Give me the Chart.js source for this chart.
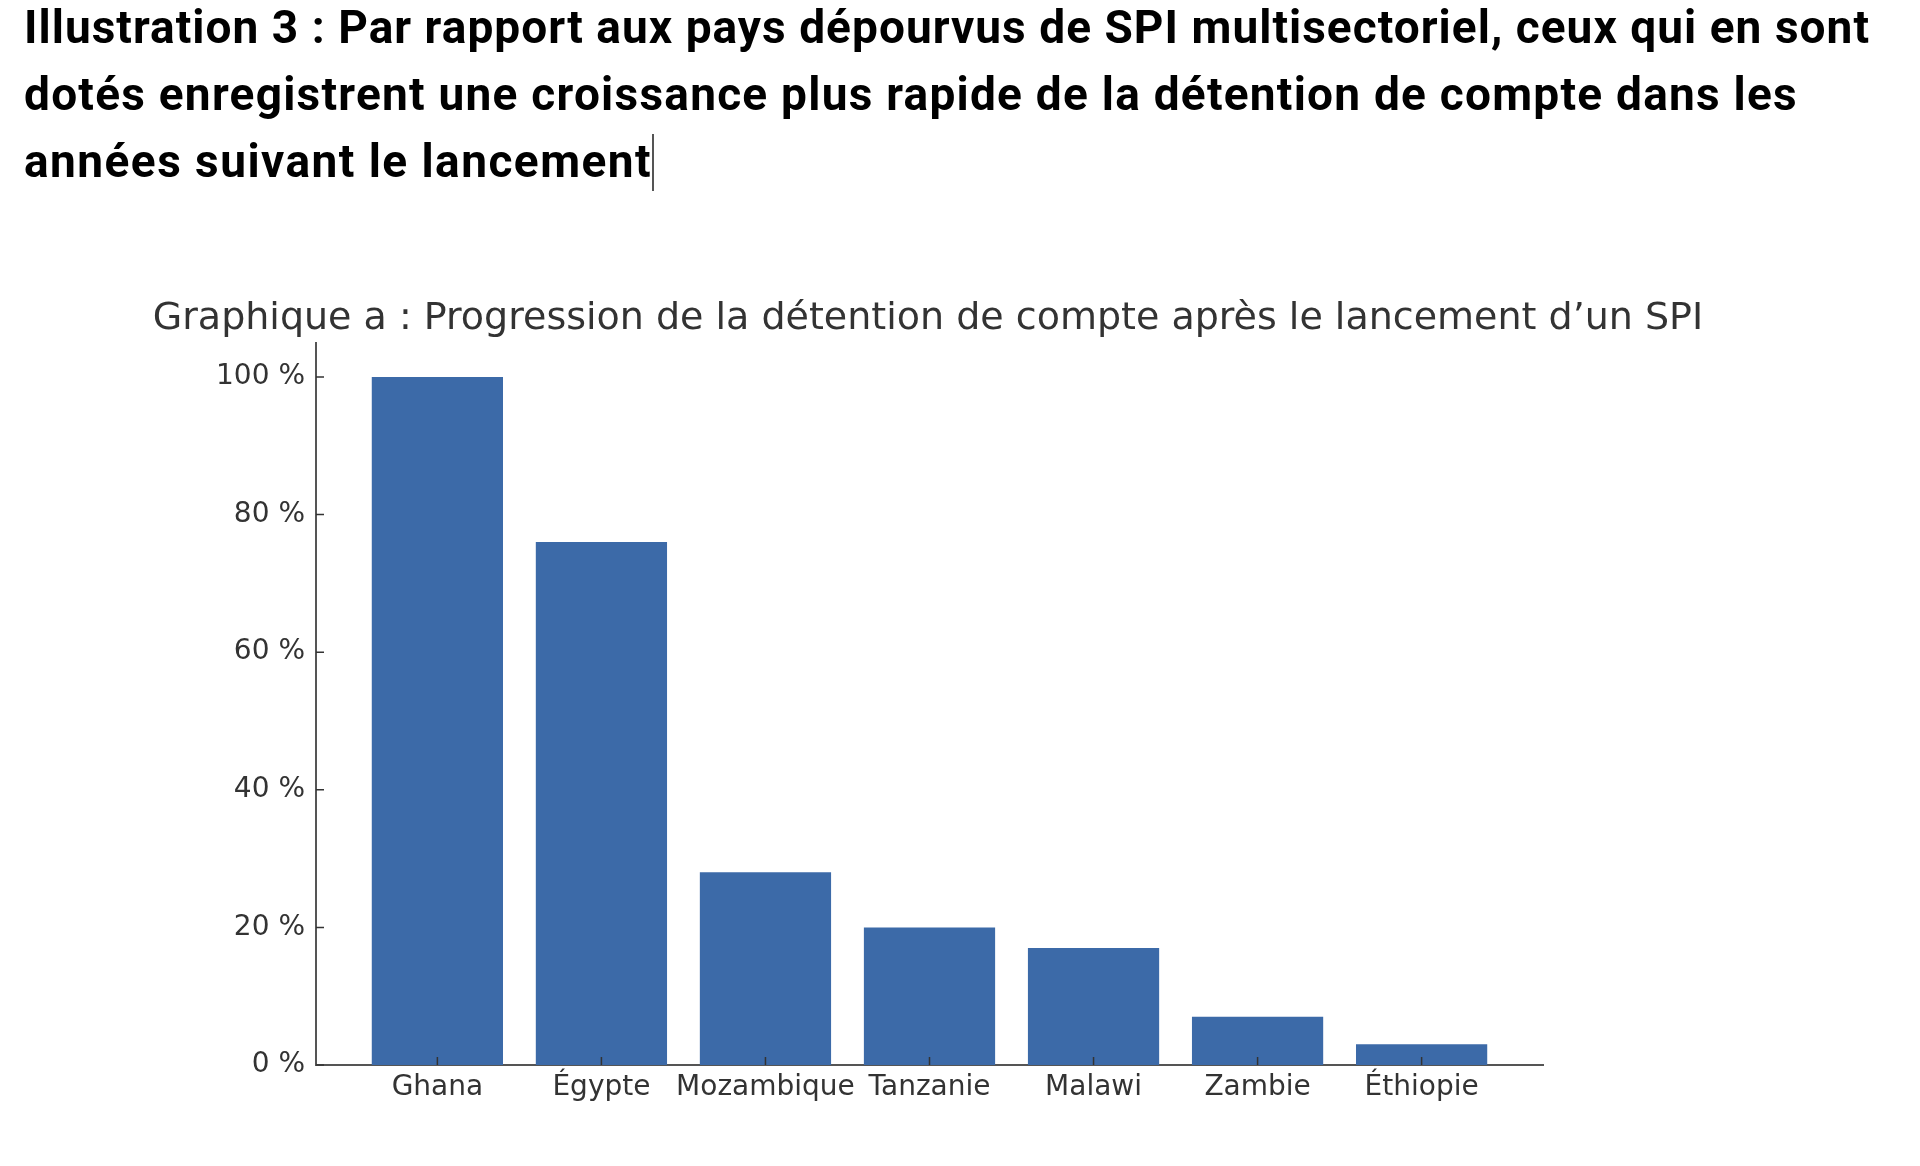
<!DOCTYPE html>
<html lang="fr">
<head>
<meta charset="utf-8">
<title>Illustration 3</title>
<script src="https://cdn.jsdelivr.net/npm/chart.js@4.4.1/dist/chart.umd.min.js"></script>
<style>
  html, body { margin: 0; padding: 0; background: #fff; width: 1920px; height: 1166px; overflow: hidden; }
  #myChart { position: absolute; left: 0; top: 0; }
  #heading {
    position: absolute; left: 24px; top: -6px;
    font-family: Roboto, "Noto Sans", sans-serif; font-weight: 700;
    font-size: 46px; line-height: 67px; color: #000; white-space: nowrap;
  }
  #heading .line { display: block; }
  .caret { display: inline-block; width: 2px; height: 57px; background: #555; vertical-align: -14px; }
</style>
</head>
<body>
<canvas id="myChart" width="1920" height="1166"></canvas>
<div id="heading">
  <span class="line"><span class="txt">Illustration 3 : Par rapport aux pays dépourvus de SPI multisectoriel, ceux qui en sont</span></span>
  <span class="line"><span class="txt">dotés enregistrent une croissance plus rapide de la détention de compte dans les</span></span>
  <span class="line"><span class="txt">années suivant le lancement</span><span class="caret"></span></span>
</div>
<script>
// chart data
const categories = ['Ghana', 'Égypte', 'Mozambique', 'Tanzanie', 'Malawi', 'Zambie', 'Éthiopie'];
const values = [100, 76, 28, 20, 17, 7, 3];
const yTicks = [0, 20, 40, 60, 80, 100];
const chartTitle = 'Graphique a : Progression de la détention de compte après le lancement d’un SPI';

// widths of the three heading lines in the picture
const headingWidths = [1846, 1774, 628];

function fitHeading() {
    document.querySelectorAll('#heading .txt').forEach((el, i) => {
        el.style.letterSpacing = '0px';
        let w = el.getBoundingClientRect().width;
        el.style.letterSpacing = ((headingWidths[i] - w) / el.textContent.length) + 'px';
    });
}
fitHeading();
document.fonts.ready.then(fitHeading);

const axisFont = { family: 'DejaVu Sans', size: 28 };
const textColor = '#333';

// matplotlib style: small tick marks pointing into the plot
const innerTicks = {
    id: 'innerTicks',
    afterDatasetsDraw(chart) {
        const { ctx, scales: { x, y } } = chart;
        ctx.save();
        ctx.strokeStyle = '#333';
        ctx.lineWidth = 1.5;
        ctx.beginPath();
        y.ticks.forEach(t => {
            let py = y.getPixelForValue(t.value);
            ctx.moveTo(x.left, py);
            ctx.lineTo(x.left + 8, py);
        });
        x.ticks.forEach(t => {
            let px = x.getPixelForValue(t.value);
            ctx.moveTo(px, y.bottom);
            ctx.lineTo(px, y.bottom - 8);
        });
        ctx.stroke();
        ctx.restore();
    }
};

const ctx = document.getElementById('myChart');
let chart = new Chart(ctx, {
    type: 'bar',
    data: {
        datasets: [{
            data: values.map((v, i) => ({ x: i, y: v })),
            backgroundColor: '#3c6aa8',
            borderWidth: 0,
            categoryPercentage: 1,
            barPercentage: 0.8
        }]
    },
    plugins: [innerTicks],
    options: {
        responsive: false,
        animation: false,
        layout: { padding: { left: 0, right: 64, top: 0, bottom: 0 } },
        scales: {
            x: {
                type: 'linear',
                offset: false,
                min: -0.74,
                max: 6.74,
                grid: { display: false, drawTicks: false },
                border: { display: true, color: '#555', width: 2 },
                afterBuildTicks: (scale) => { scale.ticks = categories.map((c, i) => ({ value: i })); },
                afterFit: (scale) => { scale.height = 101; },
                ticks: {
                    callback: (v) => categories[v],
                    font: axisFont,
                    color: textColor,
                    padding: 6,
                    maxRotation: 0,
                    autoSkip: false
                }
            },
            y: {
                min: 0,
                max: 105,
                grid: { display: false, drawTicks: false },
                border: { display: true, color: '#555', width: 2 },
                afterBuildTicks: (scale) => { scale.ticks = yTicks.map(v => ({ value: v })); },
                afterFit: (scale) => { scale.width = 316; },
                ticks: {
                    callback: (v) => v + ' %',
                    font: axisFont,
                    color: textColor,
                    padding: 11
                }
            },
            // empty right side of the figure
            yRight: {
                position: 'right',
                grid: { display: false, drawTicks: false },
                border: { display: false },
                ticks: { display: false },
                afterFit: (scale) => { scale.width = 313; }
            }
        },
        plugins: {
            legend: { display: false },
            tooltip: { enabled: false },
            title: {
                display: true,
                text: chartTitle,
                color: textColor,
                font: { family: 'DejaVu Sans', size: 38, weight: 'normal' },
                padding: { top: 296, bottom: 1 }
            }
        }
    }
});
</script>
</body>
</html>
